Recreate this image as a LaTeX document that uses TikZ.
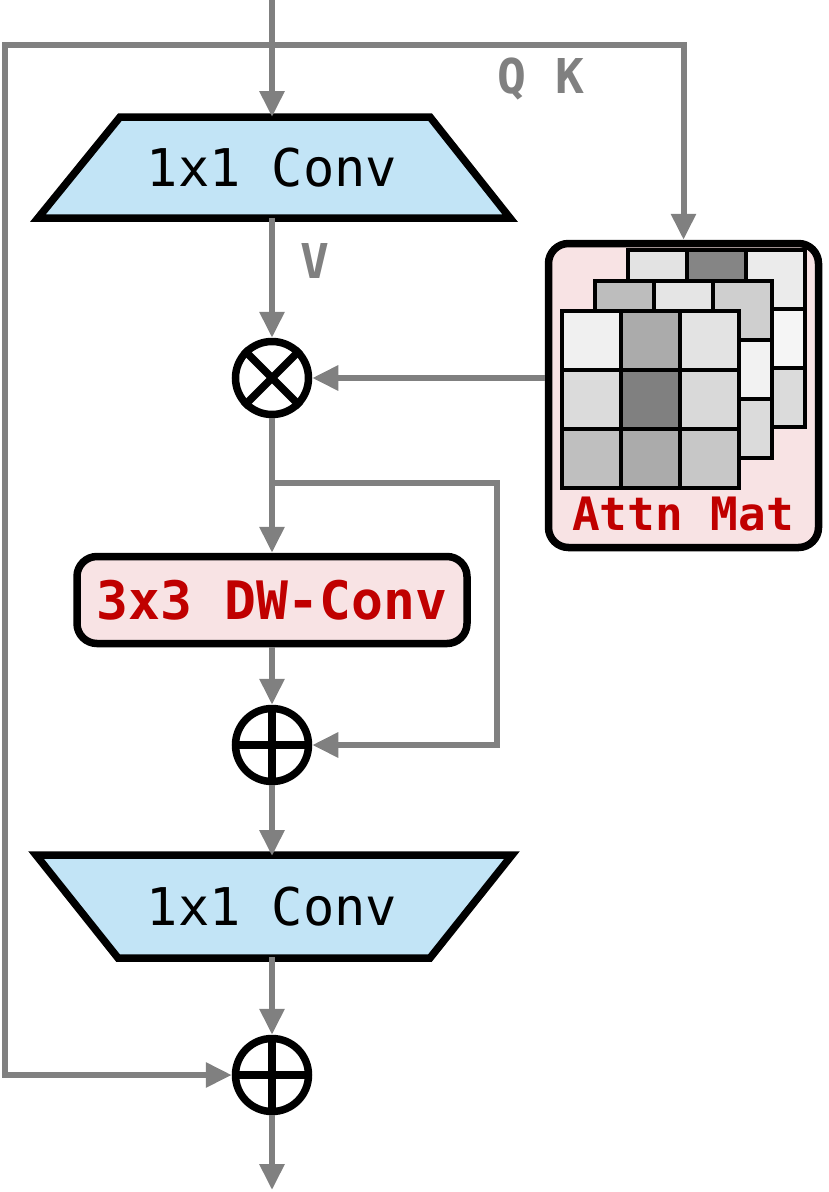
\documentclass[tikz,border=0pt]{standalone}
\usepackage{fontspec}
\setmonofont{DejaVu Sans Mono}
\usetikzlibrary{arrows.meta}

\definecolor{convblue}{HTML}{C2E4F6}
\definecolor{attnpink}{HTML}{F8E3E4}
\definecolor{attnred}{HTML}{C00000}
\definecolor{flowgray}{HTML}{808080}

\tikzset{
  flow/.style={draw=flowgray, line width=6pt, -{Triangle[length=26pt,width=24pt]}},
  convshape/.style={draw=black, line width=7.5pt, fill=convblue, line join=miter},
  convtext/.style={minimum height=101pt, inner sep=0pt, outer sep=0pt,
    font=\fontsize{52}{60}\selectfont\ttfamily},
  opnode/.style={circle, draw=black, line width=7.5pt, minimum size=73pt, inner sep=0pt},
  pinkbox/.style={rounded corners=20pt, draw=black, line width=7.5pt, fill=attnpink},
  tag/.style={text=flowgray, font=\fontsize{48}{58}\selectfont\ttfamily\bfseries},
  cell/.style={draw=black, line width=4pt},
}

% one 3x3 attention map, cells given as black percentages
\newcommand{\attngrid}[3]{%
  \foreach \v [count=\i from 0] in {#3} {
    \pgfmathtruncatemacro{\gr}{\i/3}
    \pgfmathtruncatemacro{\gc}{mod(\i,3)}
    \draw[cell, fill=black!\v] ({#1+59*\gc},{#2+59*\gr}) rectangle ++(59,59);
  }}

\begin{document}
\begin{tikzpicture}[x=1pt, y=-1pt]
  \useasboundingbox (0,0) rectangle (829,1192);

  % 1x1 conv blocks
  \draw[convshape] (38,218) -- (120,117) -- (430,117) -- (510,218) -- cycle;
  \draw[convshape] (36,855) -- (512,855) -- (430,958) -- (118,958) -- cycle;

  % main column
  \coordinate (in) at (272,0);
  \coordinate (tap) at (272,45);
  \coordinate (skipL) at (5,45);
  \node[convtext] (convA) at (272,167.5) {1x1 Conv};
  \node[opnode] (mul) at (272,378) {};
  \coordinate (split) at (272,483);
  \coordinate (bypass) at (497,483);
  \node[pinkbox, minimum width=390pt, minimum height=87pt,
        text=attnred, font=\fontsize{53}{60}\selectfont\ttfamily\bfseries]
        (dw) at (272,600) {3x3 DW-Conv};
  \node[opnode] (addA) at (272,745) {};
  \node[convtext] (convB) at (272,906.5) {1x1 Conv};
  \node[opnode] (addB) at (272,1075) {};
  \coordinate (out) at (272,1190);

  % attention map
  \node[pinkbox, minimum width=270pt, minimum height=304pt] (attn) at (683.5,395.5) {};
  \attngrid{628}{250}{11,48,8,18,30,4,22,26,14}
  \attngrid{595}{281}{26,10,19,20,35,5,28,22,14}
  \attngrid{562}{311}{6,33,11,14,50,15,25,33,22}
  \node[text=attnred, font=\fontsize{46}{54}\selectfont\ttfamily\bfseries]
        (attnlbl) at (683,514) {Attn Mat};

  % labels
  \node[tag] (qk) at (541,79) {Q K};
  \node[tag] (v) at (315,261) {V};

  % connectors
  \draw[flow] (in) -- (convA.north);
  \draw[flow] (tap) -| (attn.north);
  \draw[flow] (tap) -- (skipL) |- (addB.west);
  \draw[flow] (convA.south) -- (mul.north);
  \draw[flow] (attn.west |- mul.east) -- (mul.east);
  \draw[flow] (mul.south) -- (dw.north);
  \draw[flow] (split) -- (bypass) |- (addA.east);
  \draw[flow] (dw.south) -- (addA.north);
  \draw[flow] (addA.south) -- (convB.north);
  \draw[flow] (convB.south) -- (addB.north);
  \draw[flow] (addB.south) -- (out);

  % operator marks
  \draw[line width=7.5pt] (mul.north west) -- (mul.south east)
                          (mul.north east) -- (mul.south west);
  \draw[line width=7.5pt] (addA.north) -- (addA.south) (addA.west) -- (addA.east);
  \draw[line width=7.5pt] (addB.north) -- (addB.south) (addB.west) -- (addB.east);
\end{tikzpicture}
\end{document}
